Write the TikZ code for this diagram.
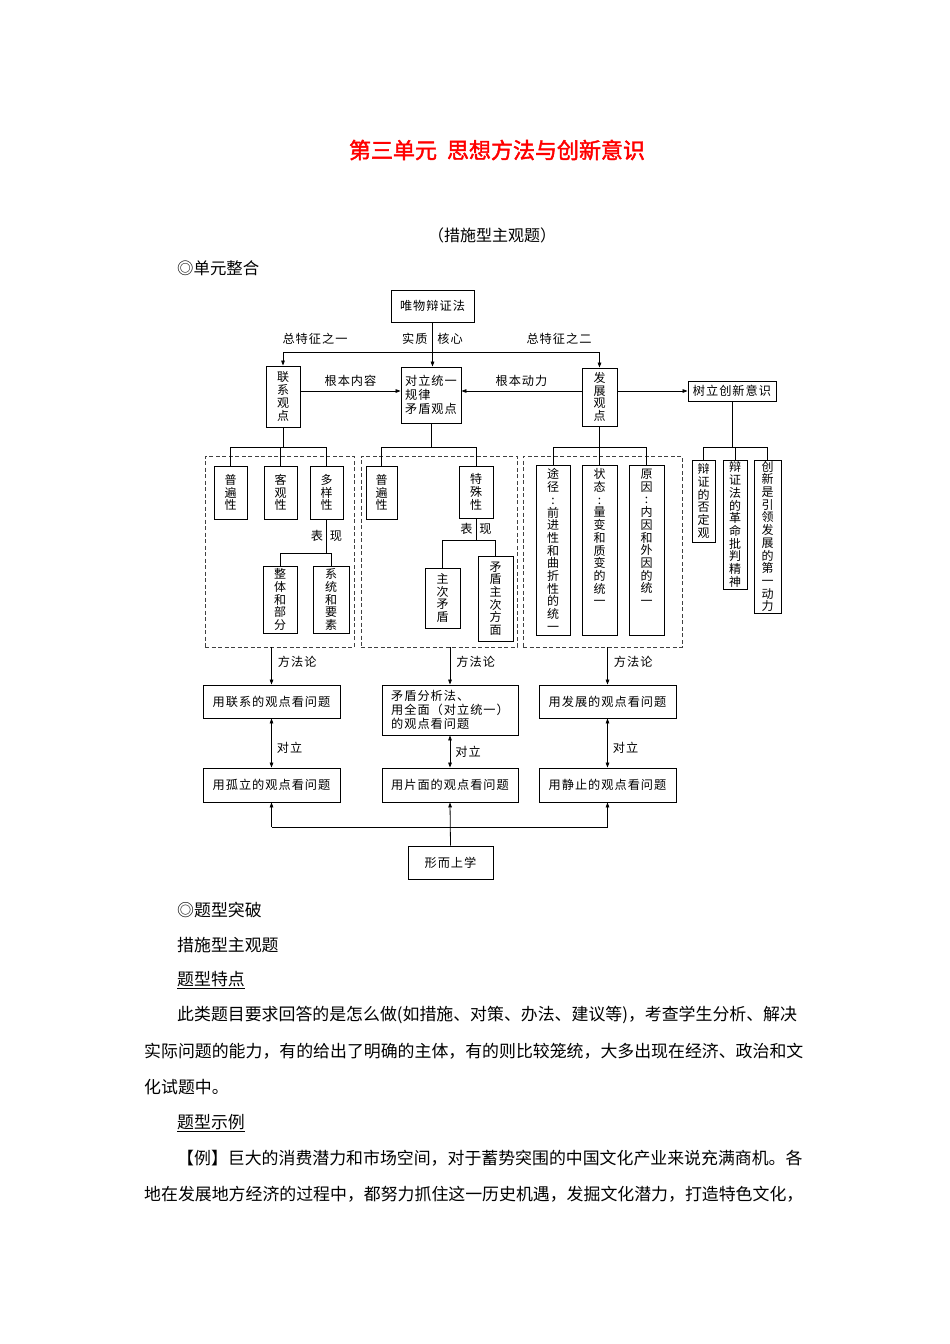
\documentclass[tikz,border=0pt]{standalone}
\usepackage{fontspec}
\setmainfont{Noto Sans CJK SC}[AutoFakeBold=2]
\newfontfamily\boxfamily{Noto Sans CJK SC}[LetterSpace=8]
\usetikzlibrary{arrows.meta}

% 字体
\newcommand{\hfnt}{\boxfamily\fontsize{12.2}{14.2}\selectfont}
\newcommand{\vfnt}{\fontsize{12}{12.7}\selectfont}
\newcommand{\bodyfnt}{\fontsize{16.9}{20}\selectfont}

\tikzset{
  wh/.style 2 args={minimum width=#1pt, minimum height=#2pt},
  box/.style={draw, line width=0.9pt, inner sep=2pt, font=\hfnt},
  vbox/.style={draw, line width=0.9pt, inner sep=1pt, align=center, font=\vfnt},
  grp/.style={draw=black!75, line width=0.8pt, dash pattern=on 4pt off 2.5pt},
  conn/.style={line width=0.8pt},
  arr/.style={conn, -{Triangle[length=5pt,width=3.6pt]}},
  darr/.style={conn, {Triangle[length=5pt,width=3.6pt]}-{Triangle[length=5pt,width=3.6pt]}},
  lbl/.style={font=\hfnt, inner sep=1pt},
  para/.style={anchor=west, font=\bodyfnt, inner sep=0pt},
}

\begin{document}
\begin{tikzpicture}[x=1pt, y=-1pt]
    \useasboundingbox (0,0) rectangle (950,1344);

    % 标题
    \node[font=\fontsize{22}{26}\selectfont\bfseries, text=red] (title) at (497,150) {第三单元\hspace{10pt}思想方法与创新意识};
    \node[font=\fontsize{16}{20}\selectfont] (sub) at (492,235) {（措施型主观题）};
    \node[para, font=\fontsize{16.4}{20}\selectfont] (zhenghe) at (177,268) {◎单元整合};

    % 第一层
    \node[box, wh={83}{32}] (wuwu) at (432.5,306) {唯物辩证法};
    \node[vbox, wh={34}{61}] (lianxi) at (283,396.5) {联\\系\\观\\点};
    \node[box, wh={60}{56}, align=left] (duili) at (431,395) {对立统一\\规律\\矛盾观点};
    \node[vbox, wh={35}{58}] (fazhan) at (599.5,397) {发\\展\\观\\点};
    \node[box, wh={88}{20}, inner sep=1pt] (shuli) at (732,391) {树立创新意识};

    \coordinate (top) at (0,352);
    \coordinate (row) at (0,391);
    \coordinate (bus) at (0,447);

    \draw[arr] (wuwu.south) -- node[lbl, pos=0.36] {实质\hspace{10pt}核心} (wuwu.south |- duili.north);
    \draw[conn] (lianxi.north |- top) -- (fazhan.north |- top);
    \draw[arr] (lianxi.north |- top) -- (lianxi.north);
    \draw[arr] (fazhan.north |- top) -- (fazhan.north);
    \node[lbl] (zt1) at (315,339) {总特征之一};
    \node[lbl] (zt2) at (559,339) {总特征之二};
    \draw[arr] (lianxi.east |- row) -- node[lbl, above=3pt] {根本内容} (duili.west |- row);
    \draw[arr] (fazhan.west |- row) -- node[lbl, above=3pt] {根本动力} (duili.east |- row);
    \draw[arr] (fazhan.east |- row) -- (shuli.west);

    % 虚线框
    \node[grp, wh={149}{191}] (g1) at (279.5,551.5) {};
    \node[grp, wh={156}{191}] (g2) at (439,551.5) {};
    \node[grp, wh={159}{191}] (g3) at (602.5,551.5) {};

    % 联系观点
    \node[vbox, wh={33}{53}] (pb1) at (230.5,492.5) {普\\遍\\性};
    \node[vbox, wh={33}{53}] (kg) at (280.5,492.5) {客\\观\\性};
    \node[vbox, wh={33}{53}] (dy) at (326.5,492.5) {多\\样\\性};
    \node[vbox, wh={34}{67}] (zb) at (280,599.5) {整\\体\\和\\部\\分};
    \node[vbox, wh={36}{67}] (xy) at (331,599.5) {系\\统\\和\\要\\素};
    \draw[conn] (lianxi.south) -- (lianxi.south |- bus);
    \draw[conn] (pb1.north) |- (dy.north |- bus) -- (dy.north);
    \draw[conn] (kg.north) -- (kg.north |- bus);
    \coordinate (sub1) at (0,553);
    \draw[conn] (dy.south) -- node[lbl, inner sep=0pt] {表\hspace{7pt}现} (dy.south |- sub1);
    \draw[conn] (zb.north) |- (xy.north |- sub1) -- (xy.north);

    % 对立统一
    \node[vbox, wh={31}{53}] (pb2) at (381.5,492.5) {普\\遍\\性};
    \node[vbox, wh={34}{52}] (ts) at (476,492) {特\\殊\\性};
    \node[vbox, wh={35}{60}] (zc) at (442.5,598) {主\\次\\矛\\盾};
    \node[vbox, wh={35}{85}] (mz) at (495.5,598.5) {矛\\盾\\主\\次\\方\\面};
    \draw[conn] (duili.south) -- (duili.south |- bus);
    \draw[conn] (pb2.north) |- (ts.north |- bus) -- (ts.north);
    \coordinate (sub2) at (0,540);
    \draw[conn] (ts.south) -- node[lbl, inner sep=0pt] {表\hspace{7pt}现} (ts.south |- sub2);
    \draw[conn] (zc.north) |- (mz.north |- sub2) -- (mz.north);

    % 发展观点
    \node[vbox, wh={34}{170}] (tj) at (553,550) {途\\径\\:\\前\\进\\性\\和\\曲\\折\\性\\的\\统\\一};
    \node[vbox, wh={35}{170}] (zt) at (599.5,550) {状\\态\\:\\量\\变\\和\\质\\变\\的\\统\\一\\\phantom{一}\\\phantom{一}};
    \node[vbox, wh={35}{170}] (yy) at (646.5,550) {原\\因\\:\\内\\因\\和\\外\\因\\的\\统\\一\\\phantom{一}\\\phantom{一}};
    \draw[conn] (fazhan.south) -- (fazhan.south |- bus);
    \draw[conn] (tj.north) |- (yy.north |- bus) -- (yy.north);
    \draw[conn] (zt.north) -- (zt.north |- bus);

    % 创新意识
    \node[vbox, wh={23}{82}] (bz) at (703.5,501) {辩\\证\\的\\否\\定\\观};
    \node[vbox, wh={24}{129}] (bg) at (735,524.5) {辩\\证\\法\\的\\革\\命\\批\\判\\精\\神};
    \node[vbox, wh={27}{153}] (cx) at (767.5,536.5) {创\\新\\是\\引\\领\\发\\展\\的\\第\\一\\动\\力};
    \draw[conn] (shuli.south) -- (shuli.south |- bus);
    \draw[conn] (bz.north) |- (cx.north |- bus) -- (cx.north);
    \draw[conn] (bg.north) -- (bg.north |- bus);

    % 方法论
    \node[box, wh={137}{33}] (m1) at (271.5,701.5) {用联系的观点看问题};
    \node[box, wh={136}{50}, align=left] (m2) at (450,710) {矛盾分析法、\\用全面（对立统一）\\的观点看问题};
    \node[box, wh={137}{33}] (m3) at (607.5,701.5) {用发展的观点看问题};
    \node[box, wh={137}{34}] (n1) at (271.5,785) {用孤立的观点看问题};
    \node[box, wh={136}{34}] (n2) at (450,785) {用片面的观点看问题};
    \node[box, wh={137}{34}] (n3) at (607.5,785) {用静止的观点看问题};
    \node[box, wh={85}{33}] (xs) at (450.5,862.5) {形而上学};

    \draw[arr] (m1.north |- g1.south) -- node[lbl, right=5pt, pos=0.4] {方法论} (m1.north);
    \draw[arr] (m2.north |- g2.south) -- node[lbl, right=5pt, pos=0.4] {方法论} (m2.north);
    \draw[arr] (m3.north |- g3.south) -- node[lbl, right=5pt, pos=0.4] {方法论} (m3.north);
    \draw[darr] (m1.south) -- node[lbl, right=4pt, pos=0.6] {对立} (n1.north);
    \draw[darr] (m2.south) -- node[lbl, right=4pt] {对立} (n2.north);
    \draw[darr] (m3.south) -- node[lbl, right=4pt, pos=0.6] {对立} (n3.north);

    \coordinate (bot) at (0,827);
    \draw[arr] (xs.north) -- (n2.south);
    \draw[conn] (n1.south |- bot) -- (n3.south |- bot);
    \draw[arr] (n1.south |- bot) -- (n1.south);
    \draw[arr] (n3.south |- bot) -- (n3.south);

    % 正文
    \node[para] (p1) at (177,910) {◎题型突破};
    \node[para] (p2) at (177,945) {措施型主观题};
    \node[para] (p3) at (177,980) {\underline{题型特点}};
    \node[para] (p4) at (177,1015) {此类题目要求回答的是怎么做(如措施、对策、办法、建议等)，考查学生分析、解决};
    \node[para] (p5) at (144,1051) {实际问题的能力，有的给出了明确的主体，有的则比较笼统，大多出现在经济、政治和文};
    \node[para] (p6) at (144,1087) {化试题中。};
    \node[para] (p7) at (177,1123) {\underline{题型示例}};
    \node[para] (p8) at (177,1158) {【例】巨大的消费潜力和市场空间，对于蓄势突围的中国文化产业来说充满商机。各};
    \node[para] (p9) at (144,1194) {地在发展地方经济的过程中，都努力抓住这一历史机遇，发掘文化潜力，打造特色文化，};
\end{tikzpicture}
\end{document}
